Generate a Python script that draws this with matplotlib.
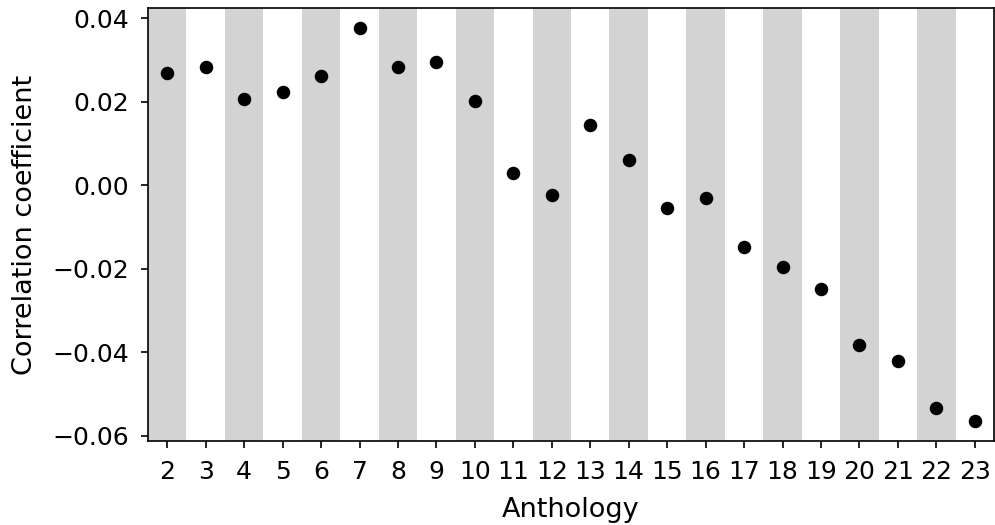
import matplotlib
matplotlib.use("Agg")
import matplotlib.pyplot as plt

# valores
antologias = list(range(2, 24))
correlacion = [0.0270, 0.0285, 0.0208, 0.0223, 0.0263, 0.0378, 0.0283, 0.0295,
               0.0203, 0.0031, -0.0022, 0.0145, 0.0062, -0.0053, -0.0031, -0.0148,
               -0.0196, -0.0249, -0.0383, -0.0420, -0.0533, -0.0565]

plt.rcParams["xtick.labelsize"] = 12
plt.rcParams["ytick.labelsize"] = 12
plt.rcParams["xtick.major.pad"] = 5.5
plt.rcParams["ytick.major.pad"] = 5.5
plt.rcParams["axes.labelsize"] = 13

fig, ax = plt.subplots(figsize=(995 / 150, 525 / 150), dpi=150)
fig.subplots_adjust(left=148 / 995, right=994 / 995, top=1 - 8 / 525, bottom=1 - 441 / 525)

# bandas grises en las antologías pares
for a in antologias:
    if a % 2 == 0:
        ax.axvspan(a - 0.5, a + 0.5, color="lightgray", lw=0, zorder=0)

ax.scatter(antologias, correlacion, color="black", s=30, zorder=3)

ax.set_xlim(1.5, 23.5)
ax.set_xticks(antologias)
ax.set_xlabel("Anthology", labelpad=6.5)
ax.set_ylabel("Correlation coefficient", labelpad=7)

fig.savefig("out.png", dpi=150)
